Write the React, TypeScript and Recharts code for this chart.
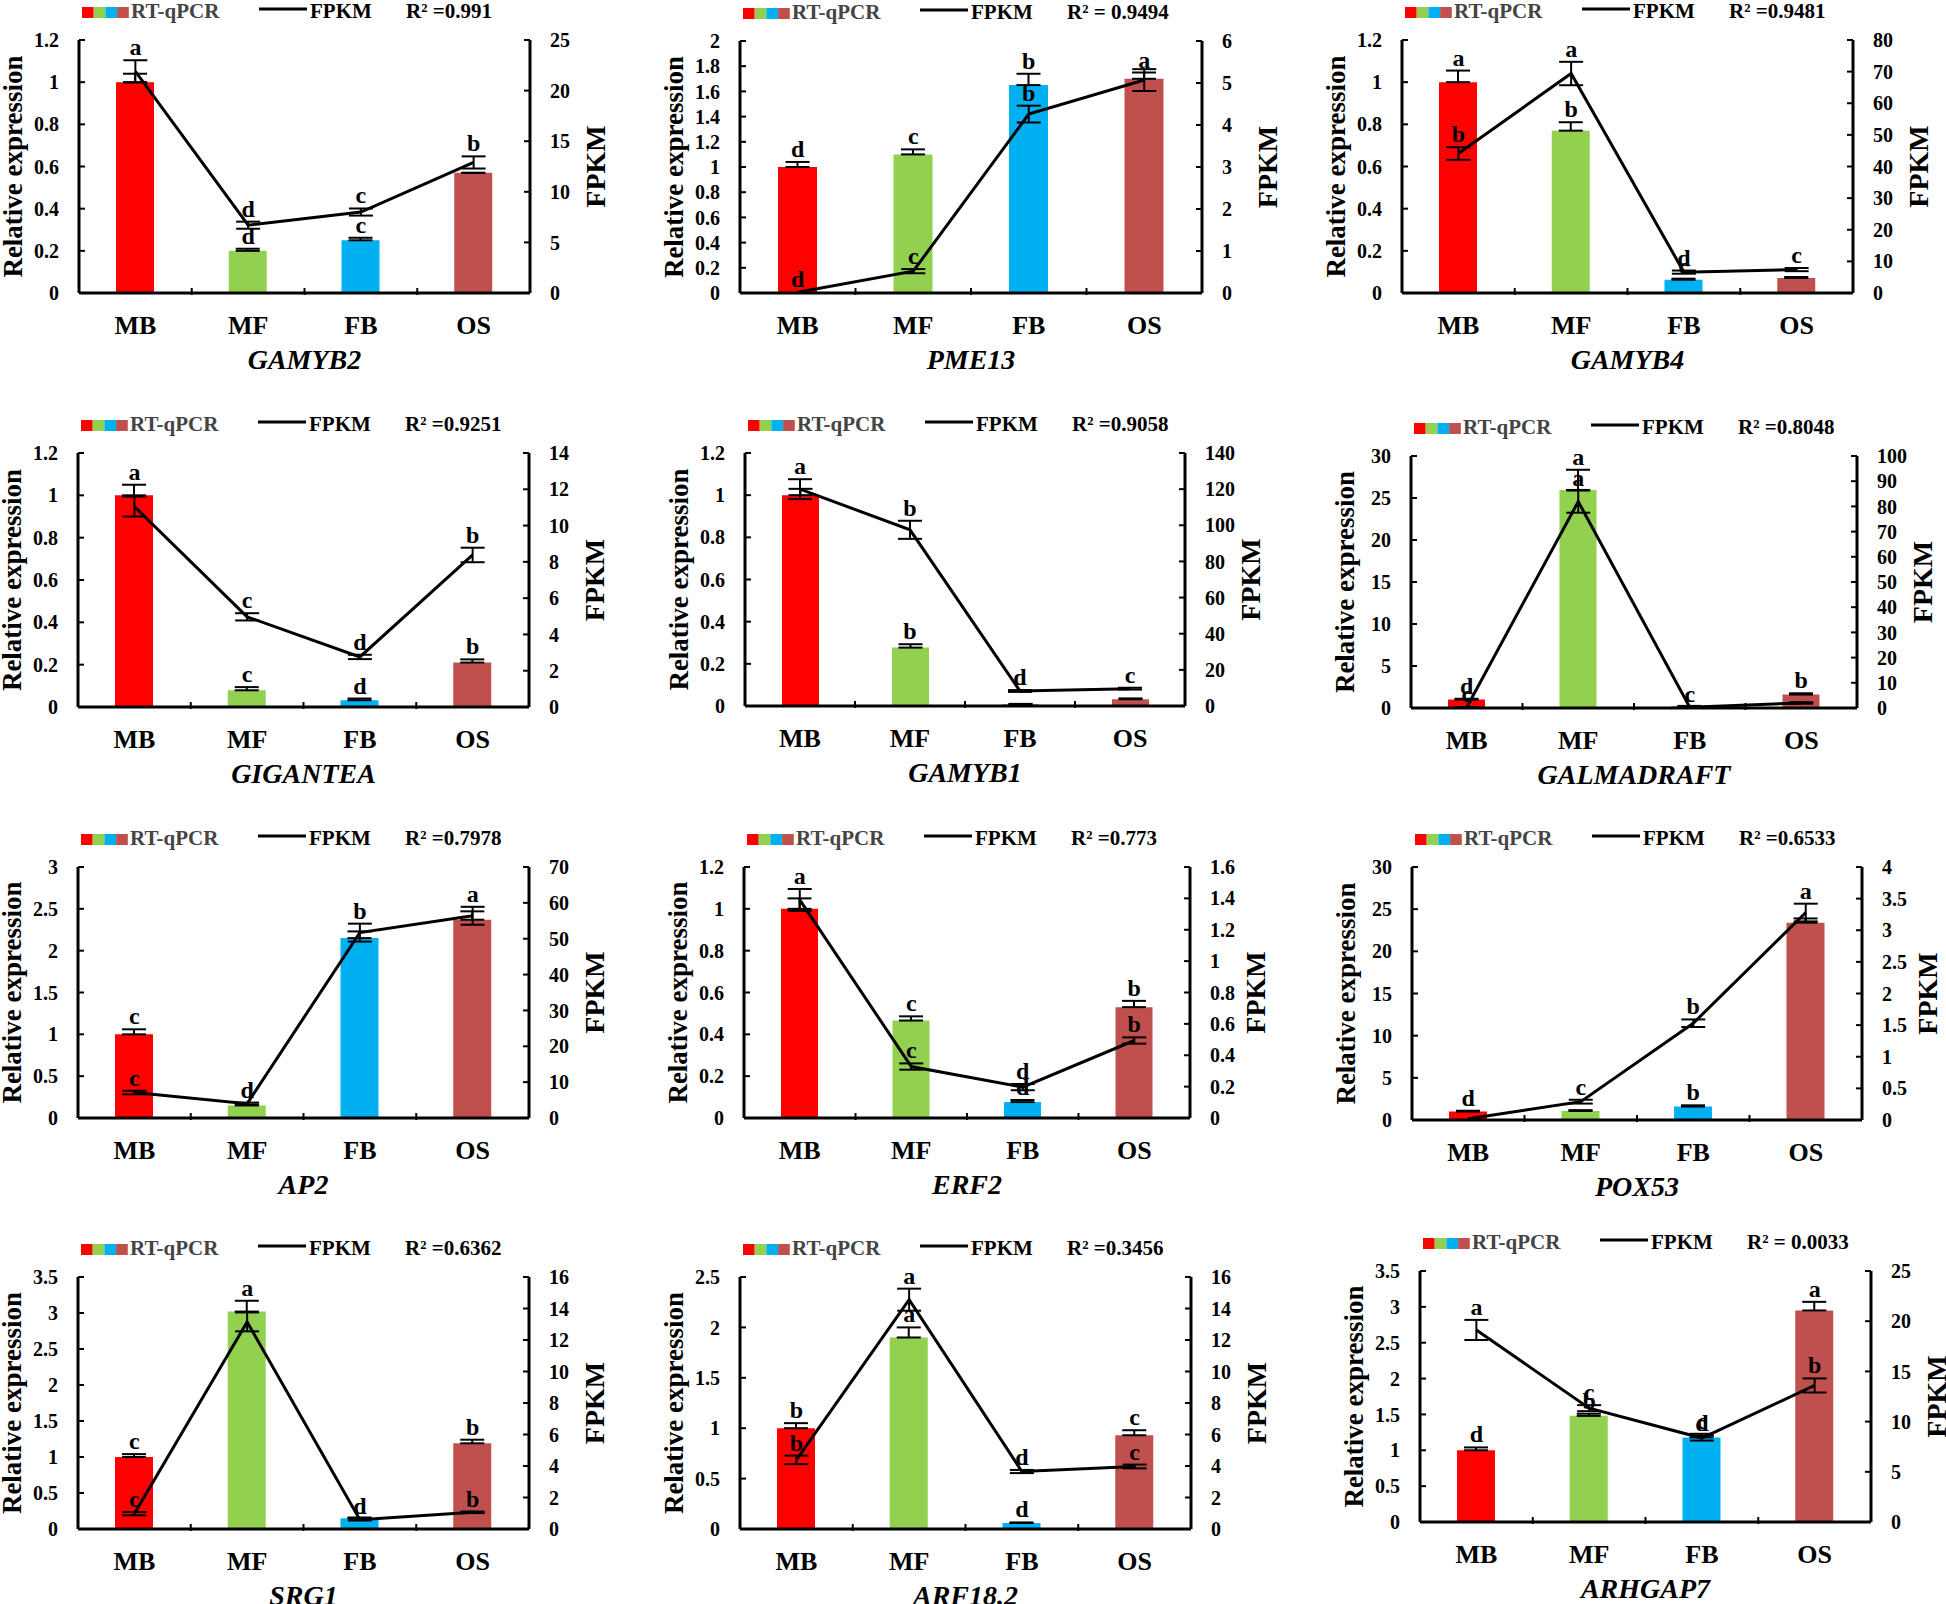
import React from 'react';
import { ComposedChart, Bar, Line, XAxis, YAxis, Cell, ErrorBar, LabelList } from 'recharts';

const FONT = '"Liberation Serif", "Times New Roman", serif';

const tissues = ['MB', 'MF', 'FB', 'OS'];
const tissueColors = ['#ff0000', '#92d050', '#00b0f0', '#c0504d'];

// GAMYB2
const gamyb2Qpcr = [1.0, 0.2, 0.25, 0.57];
const gamyb2QpcrSd = [0.04, 0.01, 0.012, 0];
const gamyb2Fpkm = [21.9, 6.7, 8.0, 12.9];
const gamyb2FpkmSd = [1.1, 0.35, 0.35, 0.6];
const gamyb2QpcrLetters = ['', 'd', 'c', ''];
const gamyb2FpkmLetters = ['a', 'd', 'c', 'b'];
const gamyb2LeftTicks = [0, 0.2, 0.4, 0.6, 0.8, 1, 1.2];
const gamyb2RightTicks = [0, 5, 10, 15, 20, 25];

// PME13
const pme13Qpcr = [1.0, 1.1, 1.65, 1.7];
const pme13QpcrSd = [0.04, 0.04, 0.09, 0.05];
const pme13Fpkm = [0.02, 0.52, 4.26, 5.07];
const pme13FpkmSd = [0, 0.05, 0.2, 0.26];
const pme13QpcrLetters = ['d', 'c', 'b', 'a'];
const pme13FpkmLetters = ['d', 'c', 'b', ''];
const pme13LeftTicks = [0, 0.2, 0.4, 0.6, 0.8, 1, 1.2, 1.4, 1.6, 1.8, 2];
const pme13RightTicks = [0, 1, 2, 3, 4, 5, 6];

// GAMYB4
const gamyb4Qpcr = [1.0, 0.77, 0.063, 0.071];
const gamyb4QpcrSd = [0.055, 0.04, 0.005, 0.005];
const gamyb4Fpkm = [44.1, 69.4, 6.6, 7.4];
const gamyb4FpkmSd = [2.0, 3.7, 0.5, 0.5];
const gamyb4QpcrLetters = ['a', 'b', 'c', ''];
const gamyb4FpkmLetters = ['b', 'a', 'd', 'c'];
const gamyb4LeftTicks = [0, 0.2, 0.4, 0.6, 0.8, 1, 1.2];
const gamyb4RightTicks = [0, 10, 20, 30, 40, 50, 60, 70, 80];

// GIGANTEA
const gigQpcr = [1.0, 0.079, 0.032, 0.21];
const gigQpcrSd = [0.05, 0.015, 0.008, 0.015];
const gigFpkm = [11.05, 4.97, 2.76, 8.38];
const gigFpkmSd = [0.55, 0.2, 0.12, 0.4];
const gigQpcrLetters = ['a', 'c', 'd', 'b'];
const gigFpkmLetters = ['', 'c', 'd', 'b'];
const gigLeftTicks = [0, 0.2, 0.4, 0.6, 0.8, 1, 1.2];
const gigRightTicks = [0, 2, 4, 6, 8, 10, 12, 14];

// GAMYB1
const gamyb1Qpcr = [1.0, 0.277, 0.008, 0.032];
const gamyb1QpcrSd = [0.03, 0.016, 0.002, 0.004];
const gamyb1Fpkm = [120, 97.5, 8.3, 9.6];
const gamyb1FpkmSd = [5.5, 5, 0.5, 0.5];
const gamyb1QpcrLetters = ['', 'b', '', ''];
const gamyb1FpkmLetters = ['a', 'b', 'd', 'c'];
const gamyb1LeftTicks = [0, 0.2, 0.4, 0.6, 0.8, 1, 1.2];
const gamyb1RightTicks = [0, 20, 40, 60, 80, 100, 120, 140];

// GALMADRAFT
const galQpcr = [1.0, 25.96, 0.2, 1.6];
const galQpcrSd = [0.1, 2.4, 0.05, 0.15];
const galFpkm = [0.3, 81.9, 0.3, 2.0];
const galFpkmSd = [0.1, 4.4, 0.1, 0.3];
const galQpcrLetters = ['d', 'a', '', 'b'];
const galFpkmLetters = ['c', 'a', 'c', ''];
const galLeftTicks = [0, 5, 10, 15, 20, 25, 30];
const galRightTicks = [0, 10, 20, 30, 40, 50, 60, 70, 80, 90, 100];

// AP2
const ap2Qpcr = [1.0, 0.15, 2.15, 2.37];
const ap2QpcrSd = [0.06, 0.01, 0.08, 0.1];
const ap2Fpkm = [7.1, 4.0, 51.7, 56.4];
const ap2FpkmSd = [0.5, 0.3, 2.5, 2.5];
const ap2QpcrLetters = ['c', '', '', ''];
const ap2FpkmLetters = ['c', 'd', 'b', 'a'];
const ap2LeftTicks = [0, 0.5, 1, 1.5, 2, 2.5, 3];
const ap2RightTicks = [0, 10, 20, 30, 40, 50, 60, 70];

// ERF2
const erf2Qpcr = [1.0, 0.466, 0.076, 0.53];
const erf2QpcrSd = [0.05, 0.02, 0.01, 0.03];
const erf2Fpkm = [1.39, 0.328, 0.197, 0.494];
const erf2FpkmSd = [0.07, 0.02, 0.02, 0.02];
const erf2QpcrLetters = ['', 'c', 'd', 'b'];
const erf2FpkmLetters = ['a', 'c', 'd', 'b'];
const erf2LeftTicks = [0, 0.2, 0.4, 0.6, 0.8, 1, 1.2];
const erf2RightTicks = [0, 0.2, 0.4, 0.6, 0.8, 1, 1.2, 1.4, 1.6];

// POX53
const pox53Qpcr = [1.0, 1.07, 1.59, 23.4];
const pox53QpcrSd = [0.1, 0.1, 0.15, 0.5];
const pox53Fpkm = [0.02, 0.29, 1.53, 3.28];
const pox53FpkmSd = [0, 0.03, 0.06, 0.14];
const pox53QpcrLetters = ['d', '', 'b', ''];
const pox53FpkmLetters = ['', 'c', 'b', 'a'];
const pox53LeftTicks = [0, 5, 10, 15, 20, 25, 30];
const pox53RightTicks = [0, 0.5, 1, 1.5, 2, 2.5, 3, 3.5, 4];

// SRG1
const srg1Qpcr = [1.0, 3.02, 0.15, 1.19];
const srg1QpcrSd = [0.04, 0.15, 0.01, 0.05];
const srg1Fpkm = [0.97, 13.15, 0.59, 1.06];
const srg1FpkmSd = [0.1, 0.6, 0.05, 0.05];
const srg1QpcrLetters = ['c', 'a', '', 'b'];
const srg1FpkmLetters = ['c', '', 'd', 'b'];
const srg1LeftTicks = [0, 0.5, 1, 1.5, 2, 2.5, 3, 3.5];
const srg1RightTicks = [0, 2, 4, 6, 8, 10, 12, 14, 16];

// ARF18.2
const arfQpcr = [1.0, 1.9, 0.06, 0.93];
const arfQpcrSd = [0.05, 0.1, 0.005, 0.05];
const arfFpkm = [4.39, 14.56, 3.65, 3.97];
const arfFpkmSd = [0.27, 0.7, 0.1, 0.12];
const arfQpcrLetters = ['b', 'a', 'd', 'c'];
const arfFpkmLetters = ['b', 'a', 'd', 'c'];
const arfLeftTicks = [0, 0.5, 1, 1.5, 2, 2.5];
const arfRightTicks = [0, 2, 4, 6, 8, 10, 12, 14, 16];

// ARHGAP7
const arhQpcr = [1.0, 1.48, 1.18, 2.95];
const arhQpcrSd = [0.04, 0.03, 0.05, 0.12];
const arhFpkm = [19.13, 11.34, 8.36, 13.6];
const arhFpkmSd = [1.0, 0.3, 0.25, 0.7];
const arhQpcrLetters = ['d', 'b', 'c', 'a'];
const arhFpkmLetters = ['a', 'c', 'd', 'b'];
const arhLeftTicks = [0, 0.5, 1, 1.5, 2, 2.5, 3, 3.5];
const arhRightTicks = [0, 5, 10, 15, 20, 25];

const panels = [
  { gene: 'GAMYB2', r2: 'R² =0.991', qpcr: gamyb2Qpcr, qpcrSd: gamyb2QpcrSd, fpkm: gamyb2Fpkm, fpkmSd: gamyb2FpkmSd, qL: gamyb2QpcrLetters, fL: gamyb2FpkmLetters, lt: gamyb2LeftTicks, rt: gamyb2RightTicks },
  { gene: 'PME13', r2: 'R² = 0.9494', qpcr: pme13Qpcr, qpcrSd: pme13QpcrSd, fpkm: pme13Fpkm, fpkmSd: pme13FpkmSd, qL: pme13QpcrLetters, fL: pme13FpkmLetters, lt: pme13LeftTicks, rt: pme13RightTicks },
  { gene: 'GAMYB4', r2: 'R² =0.9481', qpcr: gamyb4Qpcr, qpcrSd: gamyb4QpcrSd, fpkm: gamyb4Fpkm, fpkmSd: gamyb4FpkmSd, qL: gamyb4QpcrLetters, fL: gamyb4FpkmLetters, lt: gamyb4LeftTicks, rt: gamyb4RightTicks },
  { gene: 'GIGANTEA', r2: 'R² =0.9251', qpcr: gigQpcr, qpcrSd: gigQpcrSd, fpkm: gigFpkm, fpkmSd: gigFpkmSd, qL: gigQpcrLetters, fL: gigFpkmLetters, lt: gigLeftTicks, rt: gigRightTicks },
  { gene: 'GAMYB1', r2: 'R² =0.9058', qpcr: gamyb1Qpcr, qpcrSd: gamyb1QpcrSd, fpkm: gamyb1Fpkm, fpkmSd: gamyb1FpkmSd, qL: gamyb1QpcrLetters, fL: gamyb1FpkmLetters, lt: gamyb1LeftTicks, rt: gamyb1RightTicks },
  { gene: 'GALMADRAFT', r2: 'R² =0.8048', qpcr: galQpcr, qpcrSd: galQpcrSd, fpkm: galFpkm, fpkmSd: galFpkmSd, qL: galQpcrLetters, fL: galFpkmLetters, lt: galLeftTicks, rt: galRightTicks },
  { gene: 'AP2', r2: 'R² =0.7978', qpcr: ap2Qpcr, qpcrSd: ap2QpcrSd, fpkm: ap2Fpkm, fpkmSd: ap2FpkmSd, qL: ap2QpcrLetters, fL: ap2FpkmLetters, lt: ap2LeftTicks, rt: ap2RightTicks },
  { gene: 'ERF2', r2: 'R² =0.773', qpcr: erf2Qpcr, qpcrSd: erf2QpcrSd, fpkm: erf2Fpkm, fpkmSd: erf2FpkmSd, qL: erf2QpcrLetters, fL: erf2FpkmLetters, lt: erf2LeftTicks, rt: erf2RightTicks },
  { gene: 'POX53', r2: 'R² =0.6533', qpcr: pox53Qpcr, qpcrSd: pox53QpcrSd, fpkm: pox53Fpkm, fpkmSd: pox53FpkmSd, qL: pox53QpcrLetters, fL: pox53FpkmLetters, lt: pox53LeftTicks, rt: pox53RightTicks },
  { gene: 'SRG1', r2: 'R² =0.6362', qpcr: srg1Qpcr, qpcrSd: srg1QpcrSd, fpkm: srg1Fpkm, fpkmSd: srg1FpkmSd, qL: srg1QpcrLetters, fL: srg1FpkmLetters, lt: srg1LeftTicks, rt: srg1RightTicks },
  { gene: 'ARF18.2', r2: 'R² =0.3456', qpcr: arfQpcr, qpcrSd: arfQpcrSd, fpkm: arfFpkm, fpkmSd: arfFpkmSd, qL: arfQpcrLetters, fL: arfFpkmLetters, lt: arfLeftTicks, rt: arfRightTicks },
  { gene: 'ARHGAP7', r2: 'R² = 0.0033', qpcr: arhQpcr, qpcrSd: arhQpcrSd, fpkm: arhFpkm, fpkmSd: arhFpkmSd, qL: arhQpcrLetters, fL: arhFpkmLetters, lt: arhLeftTicks, rt: arhRightTicks },
];

// plot area of each panel on the page: left, top, right, bottom
const plotBoxes = [
  [79, 40, 530, 293], [740, 41, 1202, 293], [1402, 40, 1853, 293],
  [78, 453, 529, 707], [745, 453, 1185, 706], [1411, 456, 1857, 708],
  [78, 867, 529, 1118], [744, 867, 1190, 1118], [1412, 867, 1862, 1120],
  [78, 1277, 529, 1529], [740, 1277, 1191, 1529], [1420, 1271, 1871, 1522],
];

const ML = 90; // left axis room
const MR = 90; // right axis room
const MT = 45; // legend room
const MB = 90; // x labels + gene name

const axisTick = { fontFamily: FONT, fontSize: 20, fontWeight: 'bold', fill: '#000' };
const letterStyle = { fontFamily: FONT, fontSize: 24, fontWeight: 'bold', fill: '#000' };

function Panel({ p, box }: any) {
  const [pl, pt, pr, pb] = box;
  const plotW = pr - pl;
  const plotH = pb - pt;
  const W = plotW + ML + MR;
  const H = plotH + MT + MB;
  const band = plotW / 4;

  const data = tissues.map((t, i) => ({
    tissue: t,
    qpcr: p.qpcr[i],
    qpcrErr: [0, p.qpcrSd[i]],
    qpcrTop: p.qpcr[i] + p.qpcrSd[i],
    qpcrLetter: p.qL[i],
    fpkm: p.fpkm[i],
    fpkmErr: p.fpkmSd[i],
    fpkmTop: p.fpkm[i] + p.fpkmSd[i],
    fpkmLetter: p.fL[i],
  }));

  const renderTick = (props: any) => {
    const { x, y, payload, index } = props;
    return (
      <g>
        {index > 0 && (
          <line x1={x - band / 2} x2={x - band / 2} y1={y} y2={y - 7} stroke="#000" strokeWidth={2} />
        )}
        <text x={x} y={y + 39} textAnchor="middle" fontFamily={FONT} fontSize={26} fontWeight="bold" fill="#000">
          {payload.value}
        </text>
      </g>
    );
  };

  const legY = MT - 22;
  return (
    <div style={{ position: 'absolute', left: pl - ML, top: pt - MT, width: W, height: H }}>
      <ComposedChart width={W} height={H} data={data} margin={{ top: MT, right: 0, bottom: 0, left: 0 }}>
        <XAxis
          dataKey="tissue"
          height={MB}
          interval={0}
          tickSize={0}
          tickLine={false}
          axisLine={{ stroke: '#000', strokeWidth: 3 }}
          tick={renderTick}
          label={{
            value: p.gene,
            position: 'insideBottom',
            offset: 14,
            fontFamily: FONT,
            fontSize: 28,
            fontWeight: 'bold',
            fontStyle: 'italic',
            fill: '#000',
            style: { fontStyle: 'italic' },
          }}
        />
        <YAxis
          yAxisId="left"
          orientation="left"
          width={ML}
          domain={[0, p.lt[p.lt.length - 1]]}
          ticks={p.lt}
          interval={0}
          tickSize={-6}
          tickMargin={26}
          axisLine={{ stroke: '#000', strokeWidth: 3 }}
          tickLine={{ stroke: '#000', strokeWidth: 2 }}
          tick={axisTick}
          label={{
            value: 'Relative expression',
            angle: -90,
            position: 'insideLeft',
            offset: ML - 67,
            fontFamily: FONT,
            fontSize: 27,
            fontWeight: 'bold',
            fill: '#000',
            style: { textAnchor: 'middle' },
          }}
        />
        <YAxis
          yAxisId="right"
          orientation="right"
          width={MR}
          domain={[0, p.rt[p.rt.length - 1]]}
          ticks={p.rt}
          interval={0}
          tickSize={-6}
          tickMargin={26}
          axisLine={{ stroke: '#000', strokeWidth: 3 }}
          tickLine={{ stroke: '#000', strokeWidth: 2 }}
          tick={axisTick}
          label={{
            value: 'FPKM',
            angle: -90,
            position: 'insideRight',
            offset: MR - 65,
            fontFamily: FONT,
            fontSize: 28,
            fontWeight: 'bold',
            fill: '#000',
            style: { textAnchor: 'middle' },
          }}
        />
        <Bar yAxisId="left" dataKey="qpcr" barSize={Math.round(band / 3)} isAnimationActive={false}>
          {data.map((d, i) => (
            <Cell key={d.tissue} fill={tissueColors[i]} />
          ))}
          <ErrorBar dataKey="qpcrErr" width={12} strokeWidth={2} stroke="#000" direction="y" />
        </Bar>
        <Line
          yAxisId="right"
          type="linear"
          dataKey="fpkm"
          stroke="#000"
          strokeWidth={3}
          dot={false}
          activeDot={false}
          isAnimationActive={false}
        >
          <ErrorBar dataKey="fpkmErr" width={12} strokeWidth={2} stroke="#000" direction="y" />
        </Line>
        <Line
          yAxisId="left"
          dataKey="qpcrTop"
          stroke="none"
          dot={false}
          activeDot={false}
          legendType="none"
          isAnimationActive={false}
        >
          <LabelList dataKey="qpcrLetter" position="top" offset={5} {...letterStyle} />
        </Line>
        <Line
          yAxisId="right"
          dataKey="fpkmTop"
          stroke="none"
          dot={false}
          activeDot={false}
          legendType="none"
          isAnimationActive={false}
        >
          <LabelList dataKey="fpkmLetter" position="top" offset={5} {...letterStyle} />
        </Line>
      </ComposedChart>
      <svg width={W} height={H} style={{ position: 'absolute', left: 0, top: 0, pointerEvents: 'none' }}>
        {tissueColors.map((c, i) => (
          <rect key={c} x={ML + 3 + i * 11.7} y={MT - 33} width={11.7} height={11} fill={c} />
        ))}
        <text x={ML + 52} y={legY} fontFamily={FONT} fontSize={21} fontWeight="bold" fill="#444">
          RT-qPCR
        </text>
        <line x1={ML + 180} x2={ML + 228} y1={MT - 31} y2={MT - 31} stroke="#000" strokeWidth={3} />
        <text x={ML + 231} y={legY} fontFamily={FONT} fontSize={21} fontWeight="bold" fill="#000">
          FPKM
        </text>
        <text x={ML + 327} y={legY} fontFamily={FONT} fontSize={21} fontWeight="bold" fill="#000">
          {p.r2}
        </text>
      </svg>
    </div>
  );
}

export default function App() {
  return (
    <div
      style={{
        position: 'absolute',
        left: 0,
        top: 0,
        width: 1946,
        height: 1604,
        background: '#fff',
        overflow: 'hidden',
      }}
    >
      {panels.map((p, i) => (
        <Panel key={p.gene} p={p} box={plotBoxes[i]} />
      ))}
    </div>
  );
}
